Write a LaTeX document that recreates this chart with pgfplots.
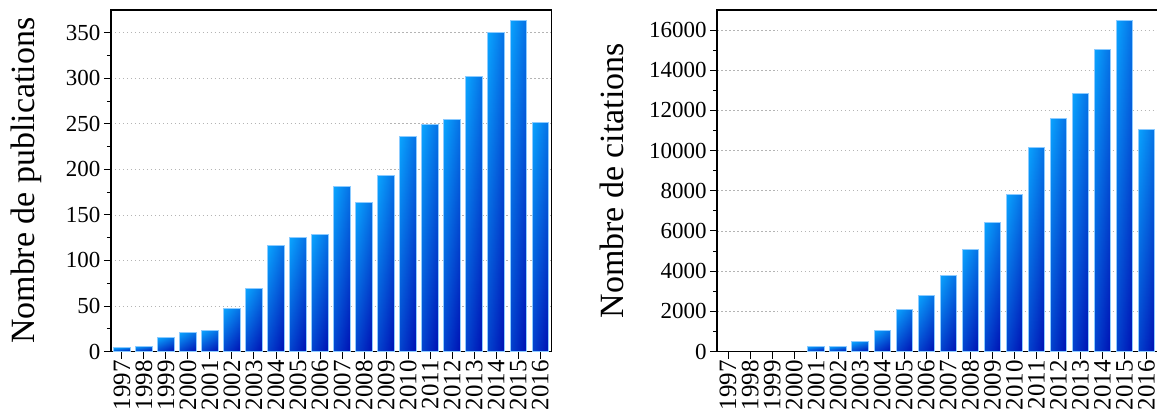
\documentclass[border=0pt]{standalone}
\usepackage{fontspec}
\setmainfont{Liberation Serif}
\usepackage{pgfplots}
\pgfplotsset{compat=1.18}
\usepackage{pgfplotstable}

\definecolor{barlight}{HTML}{0AA4FF}
\definecolor{bardark}{HTML}{0010B4}
\definecolor{baredge}{HTML}{8CCBFF}
\definecolor{gridgray}{HTML}{B4B4B4}

% publications per year (x = position of the year)
\pgfplotstableread{
x pub
0 4
1 6
2 15
3 21
4 23
5 47
6 69
7 116
8 125
9 129
10 181
11 164
12 193
13 236
14 249
15 255
16 302
17 350
18 364
19 252
}\pubdata

% citations per year, 1997-2000 have none
\pgfplotstableread{
x cit
4 260
5 260
6 480
7 1040
8 2080
9 2780
10 3800
11 5060
12 6420
13 7810
14 10150
15 11600
16 12840
17 15040
18 16500
19 11050
}\citdata

\pgfplotsset{
  common/.style={
    scale only axis,
    width=441pt, height=342pt,
    xmin=-0.5, xmax=19.5, ymin=0,
    xtick={0,...,19},
    xticklabels={1997,1998,1999,2000,2001,2002,2003,2004,2005,2006,
                 2007,2008,2009,2010,2011,2012,2013,2014,2015,2016},
    xtick pos=bottom, ytick pos=left,
    tick align=outside,
    major tick length=7pt, minor tick length=4pt,
    minor y tick num=1,
    tick style={black, line width=1pt},
    axis line style={line width=1.3pt},
    ymajorgrids=true,
    grid style={gridgray, line width=0.8pt, dash pattern=on 1.5pt off 2.5pt},
    /pgf/number format/assume math mode=true,
    /pgf/number format/1000 sep={},
    yticklabel style={font=\fontsize{23}{23}\selectfont},
    xticklabel style={font=\fontsize{25}{25}\selectfont,
                      rotate=90, anchor=east, inner sep=1.5pt},
    every axis y label/.style={rotate=90, anchor=center},
    label style={font=\fontsize{34}{40}\selectfont},
    ybar, bar width=16.5pt,
  },
  % one \addplot per bar, so that every bar gets its own gradient
  barsv/.style={
    bar shift=0pt, draw=none,
    top color=barlight, bottom color=bardark,
  },
  barsh/.style={
    bar shift=0pt, draw=baredge, line width=1pt,
    left color=barlight, right color=bardark, fill opacity=0.35,
  },
}

\begin{document}
\begin{tikzpicture}
\path[use as bounding box] (-111pt,-64pt) rectangle (1047.5pt,352pt);

\begin{axis}[common,
    at={(0pt,0pt)},
    ymax=375,
    ytick={0,50,...,350},
    ylabel={Nombre de publications},
    ylabel style={at={(axis description cs:-0.193,0.5)}},
  ]
  \pgfplotsinvokeforeach{0,...,19}{
    \addplot[barsv] table[x=x, y=pub, restrict x to domain=#1:#1] {\pubdata};
    \addplot[barsh] table[x=x, y=pub, restrict x to domain=#1:#1] {\pubdata};
  }
\end{axis}

\begin{axis}[common,
    at={(607pt,0pt)},
    ymax=17000,
    ytick={0,2000,...,16000},
    scaled y ticks=false,
    ylabel={Nombre de citations},
    ylabel style={at={(axis description cs:-0.238,0.5)}},
  ]
  \pgfplotsinvokeforeach{4,...,19}{
    \addplot[barsv] table[x=x, y=cit, restrict x to domain=#1:#1] {\citdata};
    \addplot[barsh] table[x=x, y=cit, restrict x to domain=#1:#1] {\citdata};
  }
\end{axis}
\end{tikzpicture}
\end{document}
